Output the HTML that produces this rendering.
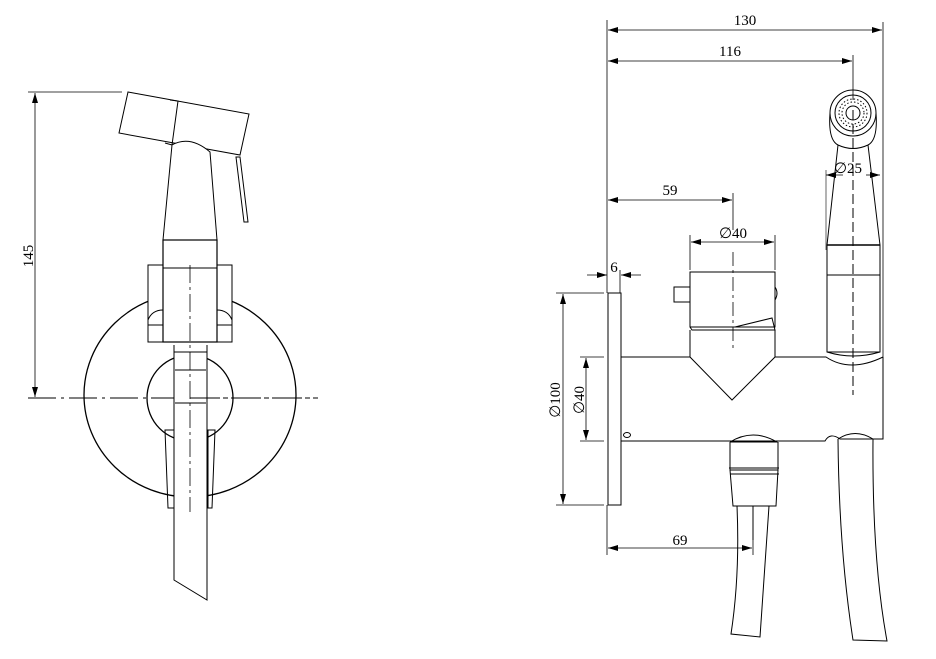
<!DOCTYPE html>
<html><head><meta charset="utf-8"><style>
html,body{margin:0;padding:0;background:#fff;}
svg{display:block;}
text{font-family:"Liberation Serif",serif;font-size:15px;fill:#000;}
</style></head><body>
<svg width="936" height="659" viewBox="0 0 936 659" xmlns="http://www.w3.org/2000/svg">
<defs>
<marker id="a" viewBox="0 0 10 6" refX="10" refY="3" markerWidth="10" markerHeight="6" orient="auto-start-reverse" markerUnits="userSpaceOnUse"><path d="M0,0 L10,3 L0,6 z" fill="#000"/></marker>
</defs>
<g fill="none" stroke="#000" stroke-width="1">
<!-- LEFT VIEW -->
<line x1="28" y1="92" x2="122" y2="92" stroke-width="0.8"/>
<line x1="35" y1="93" x2="35" y2="397" stroke-width="0.8" marker-start="url(#a)" marker-end="url(#a)"/>
<line x1="28" y1="398" x2="318" y2="398" stroke-dasharray="28,5,3,5"/>
<ellipse cx="190" cy="395" rx="106" ry="102" stroke-width="1.3"/>
<circle cx="190" cy="398" r="43" stroke-width="1.3"/>
<rect x="148" y="265" width="84" height="77" fill="#fff"/>
<path d="M148,320 Q152,310 163,310 M232,320 Q228,310 217,310"/>
<line x1="148" y1="325" x2="232" y2="325"/>
<path d="M128,92 L249,114 L240,155 L119,133 Z" fill="#fff"/>
<path d="M170,100 L178,101 L172,145 L165,143"/>
<path d="M172,145 Q190,135 210,152 L217,240 L163,240 Z" fill="#fff"/>
<path d="M236,157 L240,157 L248,222 L244,222 Z"/>
<rect x="163" y="240" width="54" height="102" fill="#fff" stroke-width="1.2"/>
<line x1="163" y1="268" x2="217" y2="268"/>
<path d="M165,430 L175,430 L175,508 L168,508 Z M208,430 L215,430 L212,508 L208,508 Z"/>
<path d="M174,345 L174,580 L207,600 L207,345" fill="#fff"/>
<line x1="174" y1="352" x2="207" y2="352"/>
<line x1="175" y1="370" x2="206" y2="370"/>
<line x1="175" y1="403" x2="206" y2="403"/>
<line x1="190" y1="265" x2="190" y2="512" stroke-dasharray="18,4,3,4" stroke-width="0.8"/>
<line x1="190" y1="398" x2="318" y2="398" stroke-dasharray="28,5,3,5"/>

<!-- RIGHT VIEW dims -->
<line x1="607" y1="20" x2="607" y2="293" stroke-width="0.8"/>
<line x1="607" y1="505" x2="607" y2="555" stroke-width="0.8"/>
<line x1="883" y1="22" x2="883" y2="357" stroke-width="0.8"/>
<line x1="608" y1="30" x2="882" y2="30" stroke-width="0.8" marker-start="url(#a)" marker-end="url(#a)"/>
<line x1="853" y1="55" x2="853" y2="100" stroke-width="0.8"/>
<line x1="608" y1="61" x2="852" y2="61" stroke-width="0.8" marker-start="url(#a)" marker-end="url(#a)"/>
<line x1="733" y1="193" x2="733" y2="230" stroke-width="0.8"/>
<line x1="608" y1="200" x2="732" y2="200" stroke-width="0.8" marker-start="url(#a)" marker-end="url(#a)"/>
<line x1="690" y1="235" x2="690" y2="270" stroke-width="0.8"/>
<line x1="775" y1="235" x2="775" y2="270" stroke-width="0.8"/>
<line x1="691" y1="242" x2="774" y2="242" stroke-width="0.8" marker-start="url(#a)" marker-end="url(#a)"/>
<line x1="587" y1="275" x2="607" y2="275" stroke-width="0.8" marker-end="url(#a)"/>
<line x1="641" y1="275" x2="621" y2="275" stroke-width="0.8" marker-end="url(#a)"/>
<line x1="620" y1="270" x2="620" y2="293" stroke-width="0.8"/>
<line x1="556" y1="293" x2="604" y2="293" stroke-width="0.8"/>
<line x1="556" y1="505" x2="604" y2="505" stroke-width="0.8"/>
<line x1="563" y1="294" x2="563" y2="504" stroke-width="0.8" marker-start="url(#a)" marker-end="url(#a)"/>
<line x1="580" y1="357" x2="604" y2="357" stroke-width="0.8"/>
<line x1="580" y1="441" x2="604" y2="441" stroke-width="0.8"/>
<line x1="586" y1="358" x2="586" y2="440" stroke-width="0.8" marker-start="url(#a)" marker-end="url(#a)"/>
<line x1="753" y1="540" x2="753" y2="555" stroke-width="0.8"/>
<line x1="608" y1="548" x2="752" y2="548" stroke-width="0.8" marker-start="url(#a)" marker-end="url(#a)"/>
<line x1="826" y1="175" x2="843" y2="175" stroke-width="0.8" marker-start="url(#a)"/>
<line x1="866" y1="175" x2="880" y2="175" stroke-width="0.8" marker-end="url(#a)"/>
<line x1="826" y1="170" x2="826" y2="250" stroke-width="0.6"/>

<rect x="608" y="293" width="13" height="212"/>
<ellipse cx="627" cy="435" rx="3.5" ry="2.5"/>
<path d="M621,357 L690,357 M775,357 L826,357 Q850,373 883,357 M883,357 L883,439 L840,439 Q830,432 825,441 L621,441"/>
<rect x="690" y="272" width="85" height="55" fill="#fff"/>
<rect x="674" y="287" width="16" height="15"/>
<path d="M775,287 Q779,293 775,300"/>
<path d="M690,327 L692,330 L775,330 L772,318 L735,327"/>
<path d="M690,330 L690,357 L732,400 L775,357 L775,330"/>
<line x1="733" y1="252" x2="733" y2="348" stroke-dasharray="14,4,3,4" stroke-width="0.8"/>
<circle cx="853" cy="113" r="23"/>
<circle cx="853" cy="113" r="18"/>
<circle cx="853" cy="113" r="14" stroke-dasharray="1.5,2"/>
<circle cx="853" cy="113" r="11" stroke-dasharray="1.5,2"/>
<circle cx="853" cy="113" r="7"/>
<path d="M830,113 Q828,140 838,145 Q853,152 868,145 Q878,140 876,113"/>
<path d="M838,145 L827,245 L827,352 Q853,360 880,352 L880,245 L868,145"/>
<line x1="827" y1="245" x2="880" y2="245" stroke-width="1.5"/>
<line x1="827" y1="275" x2="880" y2="275"/>
<line x1="827" y1="352" x2="880" y2="352"/>
<line x1="853" y1="110" x2="853" y2="395" stroke-dasharray="10,4" stroke-width="1"/>
<path d="M730,442 Q753,428 777,442 L730,442 M730,442 L730,470 L778,470 L778,442"/>
<path d="M729,468 L779,468 M730,474 L779,474"/>
<path d="M730,470 L733,506 L776,506 L778,470"/>
<path d="M737,506 Q740,575 731,634 L760,637 Q764,575 769,506 M753,506 L753,540"/>
<path d="M838,439 Q855,428 873,439 M838,439 Q839,550 853,640 L887,641 Q872,560 873,439"/>
</g>
<text transform="translate(33,256) rotate(-90)" text-anchor="middle" x="0" y="0">145</text>
<text x="745" y="25" text-anchor="middle">130</text>
<text x="730" y="56" text-anchor="middle">116</text>
<text x="670" y="195" text-anchor="middle">59</text>
<text x="733" y="238" text-anchor="middle">∅40</text>
<text x="614" y="272" text-anchor="middle">6</text>
<text x="848" y="173" text-anchor="middle">∅25</text>
<text x="680" y="545" text-anchor="middle">69</text>
<text transform="translate(560,400) rotate(-90)" text-anchor="middle">∅100</text>
<text transform="translate(584,400) rotate(-90)" text-anchor="middle">∅40</text>
</svg>
</body></html>
